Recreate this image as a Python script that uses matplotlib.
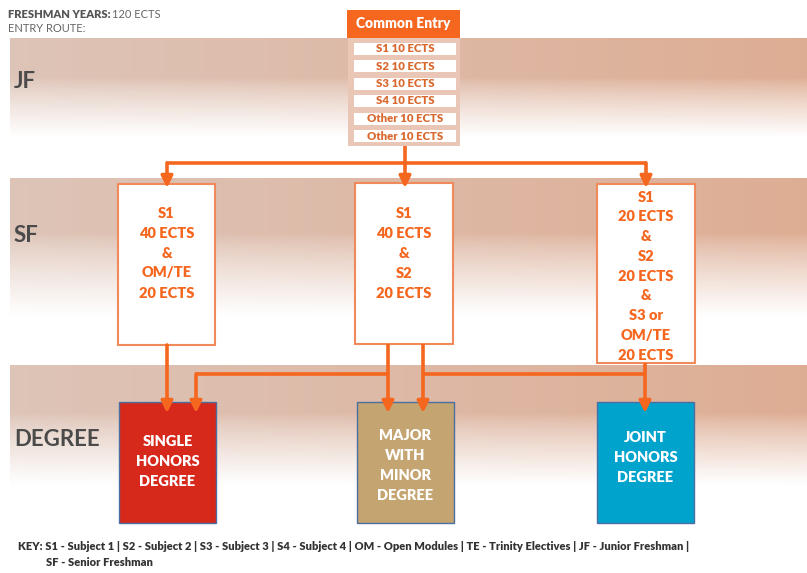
import numpy as np
import matplotlib.pyplot as plt
from matplotlib.patches import Rectangle

# textos do diagrama
linhas = ['JF', 'SF', 'DEGREE']
entrada = ['S1 10 ECTS', 'S2 10 ECTS', 'S3 10 ECTS', 'S4 10 ECTS', 'Other 10 ECTS', 'Other 10 ECTS']
caixas_sf = [
    ['S1', '40 ECTS', '&', 'OM/TE', '20 ECTS'],
    ['S1', '40 ECTS', '&', 'S2', '20 ECTS'],
    ['S1', '20 ECTS', '&', 'S2', '20 ECTS', '&', 'S3 or', 'OM/TE', '20 ECTS'],
]
graus = [['SINGLE', 'HONORS', 'DEGREE'], ['MAJOR', 'WITH', 'MINOR', 'DEGREE'], ['JOINT', 'HONORS', 'DEGREE']]
cores_graus = ['#D7281C', '#C4A470', '#00A3CC']
legenda = ['KEY: S1 - Subject 1 | S2 - Subject 2 | S3 - Subject 3 | S4 - Subject 4 | OM - Open Modules | '
           'TE - Trinity Electives | JF - Junior Freshman |', 'SF - Senior Freshman']

laranja = '#F5661E'
cinza = '#4A4A4A'
fonte = 'Lato'

fig = plt.figure(figsize=(8.07, 5.73), dpi=100)
ax = fig.add_axes([0, 0, 1, 1])
ax.set_xlim(0, 807)
ax.set_ylim(573, 0)
ax.axis('off')

# faixas com degradê
faixas = [(38, 170), (178, 362), (365, 525)]
for (y0, y1) in faixas:
    n = 100
    t = np.linspace(0, 1, n)[:, None]
    s = np.linspace(0, 1, 60)[None, :]
    topo_esq = np.array([0.87, 0.77, 0.72])
    topo_dir = np.array([0.87, 0.68, 0.58])
    img = np.zeros((n, 60, 3))
    fade = np.clip((t - 0.3) / 0.45, 0, 1) ** 0.8
    for c in range(3):
        topo = topo_esq[c] + (topo_dir[c] - topo_esq[c]) * s
        img[:, :, c] = topo + (1 - topo) * fade
    ax.imshow(img, extent=(10, 807, y1, y0), aspect='auto', zorder=0, interpolation='bilinear')

# rótulos das linhas
ax.text(14, 82, linhas[0], fontsize=16, fontweight='bold', color=cinza, va='center', family=fonte)
ax.text(14, 235, linhas[1], fontsize=16, fontweight='bold', color=cinza, va='center', family=fonte)
ax.text(14, 440, linhas[2], fontsize=16, fontweight='bold', color=cinza, va='center', family=fonte)

# cabeçalho
ax.text(8, 14, 'FRESHMAN YEARS:', fontsize=8, fontweight='heavy', color='#555555', va='center', family=fonte)
ax.text(112, 14, '120 ECTS', fontsize=8, color='#666666', va='center', family=fonte)
ax.text(8, 29, 'ENTRY ROUTE:', fontsize=8, color='#666666', va='center', family=fonte)

# caixa Common Entry
ax.add_patch(Rectangle((348, 38), 112, 108, facecolor='#EAC6B6', edgecolor='none', zorder=2))
ax.add_patch(Rectangle((347, 10), 113, 28, facecolor=laranja, edgecolor='none', zorder=3))
ax.text(403.5, 24, 'Common Entry', fontsize=10, fontweight='heavy', color='white', ha='center', va='center',
        family=fonte, zorder=4)
for i, txt in enumerate(entrada):
    yc = 48.5 + i * 17.5
    ax.add_patch(Rectangle((354, yc - 6), 102, 12, facecolor='white', edgecolor='none', zorder=3))
    ax.text(405, yc, txt, fontsize=8.2, fontweight='heavy', color='#D9692F', ha='center', va='center',
            family=fonte, zorder=4)

# setas
def seta(x, y0, y1):
    ax.annotate('', xy=(x, y1), xytext=(x, y0),
                arrowprops=dict(arrowstyle='-|>', color=laranja, lw=2.6, mutation_scale=17,
                                shrinkA=0, shrinkB=0), zorder=5)

def linha(xs, ys):
    ax.plot(xs, ys, color=laranja, lw=2.6, solid_capstyle='butt', zorder=5)

xs_sf = [167, 405, 646]
linha([405, 405], [146, 163])
linha([165.7, 647.3], [163, 163])
for x in xs_sf:
    seta(x, 163, 188)

# caixas SF
caixas = [(118, 184, 97, 161), (355, 183, 98, 161), (597, 184, 98, 179)]
for (x, y, w, h), txts in zip(caixas, caixas_sf):
    ax.add_patch(Rectangle((x, y), w, h, facecolor='white', edgecolor='#F08A5A', lw=1.5, zorder=3))
    y_ini = 213 if len(txts) == 5 else 197
    passo = 20 if len(txts) == 5 else 19.8
    for j, t in enumerate(txts):
        ax.text(x + w / 2, y_ini + j * passo, t, fontsize=10.5, fontweight='heavy', color=laranja,
                ha='center', va='center', family=fonte, zorder=4)

# ligações SF -> grau
seta(167, 345, 413)
linha([388, 388], [344, 374])
linha([194.7, 389.3], [374, 374])
seta(196, 374, 413)
seta(388, 374, 413)
linha([423, 423], [344, 374])
linha([421.7, 646.3], [374, 374])
seta(423, 374, 413)
linha([645, 645], [363, 374])
seta(645, 374, 413)

# caixas dos graus
xs_grau = [119, 357, 597]
ys_txt = [442, 435, 438]
for x, cor, txts, yt in zip(xs_grau, cores_graus, graus, ys_txt):
    ax.add_patch(Rectangle((x, 402), 97, 121, facecolor=cor, edgecolor='#4A6FA0', lw=1.0, zorder=3))
    for j, t in enumerate(txts):
        ax.text(x + 48.5, yt + j * 20, t, fontsize=10.5, fontweight='heavy', color='white',
                ha='center', va='center', family=fonte, zorder=4)

# legenda
ax.text(18, 547, legenda[0], fontsize=8, fontweight='heavy', color='#333333', va='center', family=fonte)
ax.text(46, 562, legenda[1], fontsize=8, fontweight='heavy', color='#333333', va='center', family=fonte)

plt.savefig('out.png', dpi=100)
